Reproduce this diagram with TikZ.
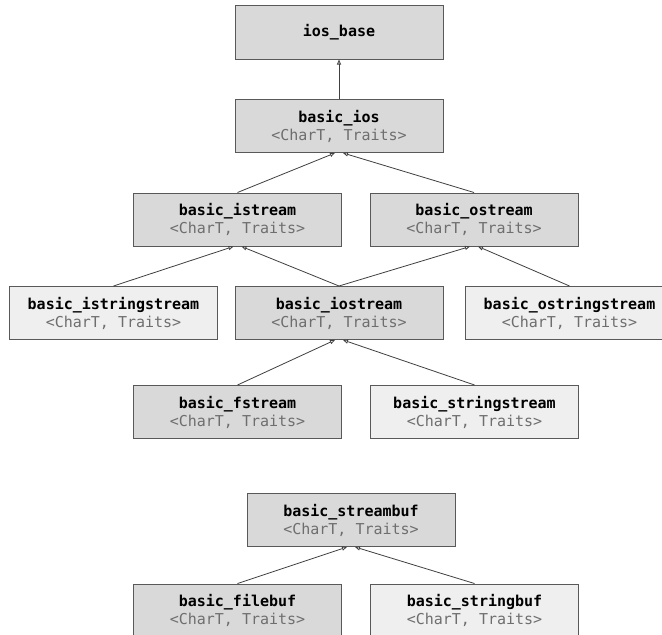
\documentclass[tikz,border=0pt]{standalone}
\usepackage{fontspec}
\newfontfamily\codefont{DejaVu Sans Mono}
\usetikzlibrary{arrows.meta}
\definecolor{darkfill}{HTML}{D9D9D9}
\definecolor{lightfill}{HTML}{EFEFEF}
\definecolor{boxline}{HTML}{595959}
\definecolor{edgeline}{HTML}{404040}
\definecolor{subtext}{HTML}{6E6E6E}
\tikzset{
  cls/.style={draw=boxline, line width=1pt, minimum width=208pt, minimum height=53pt,
    inner sep=0pt, align=center, font=\codefont\fontsize{15}{18}\selectfont},
  dk/.style={cls, fill=darkfill},
  lt/.style={cls, fill=lightfill},
  inh/.style={draw=edgeline, line width=0.8pt, -{Triangle[open, length=5pt, width=4pt]}}
}
\newcommand{\cn}[1]{\textbf{#1}\\{\color{subtext}<CharT, Traits>}}
\begin{document}
\begin{tikzpicture}[x=1pt, y=-1pt]
\clip (0,0) rectangle (662,635);
\fill[white] (0,0) rectangle (662,635);
\node[dk, minimum height=54pt] (base) at (339,32) {\textbf{ios\_base}};
\node[dk] (ios) at (339,126) {\cn{basic\_ios}};
\node[dk] (istream) at (237.5,219.5) {\cn{basic\_istream}};
\node[dk] (ostream) at (474,219.5) {\cn{basic\_ostream}};
\node[lt] (isstream) at (113.5,313) {\cn{basic\_istringstream}};
\node[dk] (iostream) at (339,313) {\cn{basic\_iostream}};
\node[lt] (osstream) at (569.5,313) {\cn{basic\_ostringstream}};
\node[dk] (fstream) at (237.5,412) {\cn{basic\_fstream}};
\node[lt] (sstream) at (474.5,412) {\cn{basic\_stringstream}};
\node[dk] (sbuf) at (351,520) {\cn{basic\_streambuf}};
\node[dk] (fbuf) at (237.5,610.5) {\cn{basic\_filebuf}};
\node[lt] (strbuf) at (474.5,610.5) {\cn{basic\_stringbuf}};
\draw[inh] (ios.north) -- (base.south);
\draw[inh] (istream.north) -- ([xshift=-4pt]ios.south);
\draw[inh] (ostream.north) -- ([xshift=4pt]ios.south);
\draw[inh] (isstream.north) -- ([xshift=-4pt]istream.south);
\draw[inh] (iostream.north) -- ([xshift=4pt]istream.south);
\draw[inh] (iostream.north) -- ([xshift=-4pt]ostream.south);
\draw[inh] (osstream.north) -- ([xshift=4pt]ostream.south);
\draw[inh] (fstream.north) -- ([xshift=-4pt]iostream.south);
\draw[inh] (sstream.north) -- ([xshift=4pt]iostream.south);
\draw[inh] (fbuf.north) -- ([xshift=-4pt]sbuf.south);
\draw[inh] (strbuf.north) -- ([xshift=4pt]sbuf.south);
\end{tikzpicture}
\end{document}
